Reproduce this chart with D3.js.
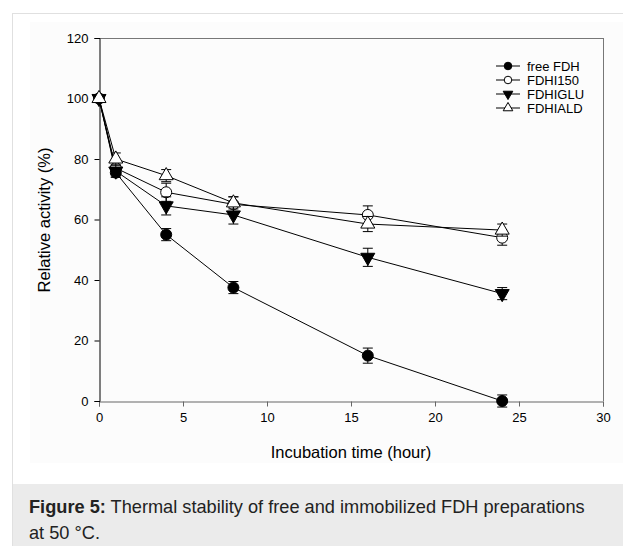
<!DOCTYPE html>
<html><head><meta charset="utf-8">
<script src="https://cdn.jsdelivr.net/npm/d3@7/dist/d3.min.js"></script>
<style>
body{margin:0;background:#fff;}
svg{display:block;font-family:"Liberation Sans",Arial,sans-serif;}
</style></head>
<body>
<svg id="c" width="623" height="546"></svg>
<script>
const times = [0, 1, 4, 8, 16, 24];
const seriesNames = ["free FDH", "FDHI150", "FDHIGLU", "FDHIALD"];
const freeFDH = [100, 75.5, 55, 37.5, 15, 0];
const freeFDHErr = [0, 1.5, 2, 2, 2.5, 2];
const fdhi150 = [100, 77, 69, 65, 61.5, 54];
const fdhi150Err = [0, 2, 3, 2.5, 3, 2.5];
const fdhiGLU = [100, 76, 64.5, 61.5, 47.5, 35.5];
const fdhiGLUErr = [0, 2, 3, 3, 3, 2];
const fdhiALD = [100, 80, 74.5, 65.5, 58.5, 56.5];
const fdhiALDErr = [0, 2, 2, 2, 2.5, 2];
const xTicks = [0, 5, 10, 15, 20, 25, 30];
const yTicks = [0, 20, 40, 60, 80, 100, 120];

const series = [
  {name: seriesNames[0], vals: freeFDH, err: freeFDHErr, shape: "circle", fill: "#000"},
  {name: seriesNames[1], vals: fdhi150, err: fdhi150Err, shape: "circle", fill: "#fff"},
  {name: seriesNames[2], vals: fdhiGLU, err: fdhiGLUErr, shape: "tridown", fill: "#000"},
  {name: seriesNames[3], vals: fdhiALD, err: fdhiALDErr, shape: "triup", fill: "#fff"}
];

const svg = d3.select("#c");
// card
svg.append("rect").attr("x", 12.5).attr("y", 13.5).attr("width", 620).attr("height", 540)
  .attr("fill", "#fff").attr("stroke", "#e0e0e0").attr("stroke-width", 1);
svg.append("rect").attr("x", 30).attr("y", 22).attr("width", 593).attr("height", 441).attr("fill", "#fcfcfc");
svg.append("rect").attr("x", 13).attr("y", 484).attr("width", 610).attr("height", 62).attr("fill", "#ebebeb");

const x = d3.scaleLinear().domain([0, 30]).range([99, 603]);
const y = d3.scaleLinear().domain([0, 120]).range([401, 38]);

// frame top/right
svg.append("line").attr("x1", 99).attr("x2", 603).attr("y1", 38.5).attr("y2", 38.5).attr("stroke", "#777");
svg.append("line").attr("x1", 603.5).attr("x2", 603.5).attr("y1", 38).attr("y2", 401).attr("stroke", "#777");

const xa = svg.append("g").attr("transform", "translate(0,401.5)")
  .call(d3.axisBottom(x).tickValues(xTicks).tickSize(5).tickPadding(6));
xa.select(".domain").attr("stroke", "#666");
xa.selectAll(".tick line").attr("stroke", "#666");
xa.selectAll("text").attr("font-size", 13).attr("fill", "#000").attr("font-family", "Liberation Sans, Arial, sans-serif");

const ya = svg.append("g").attr("transform", "translate(99.5,0)")
  .call(d3.axisLeft(y).tickValues(yTicks).tickSize(5).tickPadding(6));
ya.select(".domain").attr("stroke", "#000");
ya.selectAll(".tick line").attr("stroke", "#000");
ya.selectAll("text").attr("font-size", 13).attr("fill", "#000").attr("font-family", "Liberation Sans, Arial, sans-serif");

svg.append("text").attr("x", 351).attr("y", 458).attr("text-anchor", "middle")
  .attr("font-size", 16.5).text("Incubation time (hour)");
svg.append("text").attr("transform", "translate(50,220) rotate(-90)").attr("text-anchor", "middle")
  .attr("font-size", 16.5).text("Relative activity (%)");

const line = d3.line().x((d, i) => x(times[i])).y(d => y(d));
const sym = {
  circle: d3.symbol().type(d3.symbolCircle).size(95),
  tridown: d3.symbol().type(d3.symbolTriangle).size(85),
  triup: d3.symbol().type(d3.symbolTriangle).size(85)
};

series.forEach(s => {
  svg.append("path").attr("d", line(s.vals)).attr("fill", "none").attr("stroke", "#000").attr("stroke-width", 1);
});
series.forEach(s => {
  const g = svg.append("g");
  s.vals.forEach((v, i) => {
    const e = s.err[i];
    if (e > 0) {
      const cx = x(times[i]);
      g.append("line").attr("x1", cx).attr("x2", cx).attr("y1", y(v + e)).attr("y2", y(v - e)).attr("stroke", "#000");
      [v + e, v - e].forEach(w => g.append("line").attr("x1", cx - 5).attr("x2", cx + 5)
        .attr("y1", y(w)).attr("y2", y(w)).attr("stroke", "#000"));
    }
  });
  s.vals.forEach((v, i) => {
    g.append("path").attr("d", sym[s.shape]())
      .attr("transform", `translate(${x(times[i])},${y(v)})` + (s.shape === "tridown" ? " rotate(180)" : ""))
      .attr("fill", s.fill).attr("stroke", "#000").attr("stroke-width", 1);
  });
});

// legend
const legY = [66, 80, 94, 108];
series.forEach((s, i) => {
  const g = svg.append("g").attr("transform", `translate(496,${legY[i]})`);
  g.append("line").attr("x1", 0).attr("x2", 24).attr("y1", 0).attr("y2", 0).attr("stroke", "#000");
  const sz = s.shape === "circle" ? 45 : 40;
  const symb = d3.symbol().type(s.shape === "circle" ? d3.symbolCircle : d3.symbolTriangle).size(sz);
  g.append("path").attr("d", symb()).attr("transform", `translate(12,0)` + (s.shape === "tridown" ? " rotate(180)" : ""))
    .attr("fill", s.fill).attr("stroke", "#000");
  g.append("text").attr("x", 31).attr("y", 4.5).attr("font-size", 13).text(s.name);
});

// caption
const cap = svg.append("text").attr("x", 29).attr("y", 513).attr("font-size", 18.2).attr("fill", "#222");
cap.append("tspan").attr("font-weight", "bold").text("Figure 5:");
cap.append("tspan").text(" Thermal stability of free and immobilized FDH preparations");
svg.append("text").attr("x", 29).attr("y", 539).attr("font-size", 18.2).attr("fill", "#222").text("at 50 °C.");
</script>
</body></html>
